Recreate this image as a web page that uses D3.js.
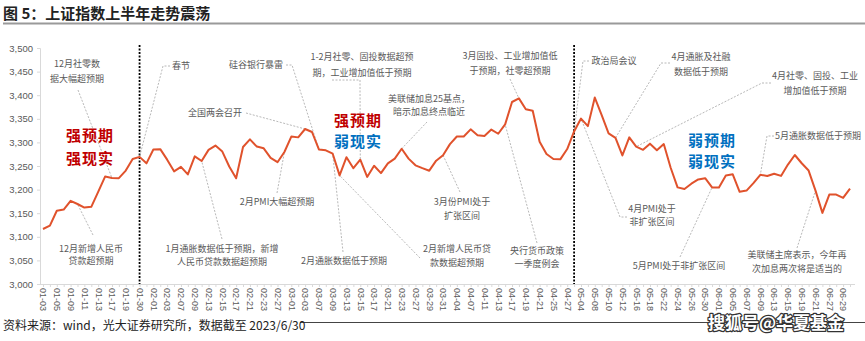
<!DOCTYPE html>
<html><head><meta charset="utf-8">
<script src="https://cdn.jsdelivr.net/npm/d3@7/dist/d3.min.js"></script>
<style>body{margin:0;background:#fff}svg{display:block}</style>
</head><body><svg id="c" width="865" height="341"></svg>
<script>
// ---------------- DATA ----------------
const dates = [
"01-03","01-04","01-05","01-06","01-09","01-10","01-11","01-12","01-13","01-16","01-17","01-18","01-19","01-20","01-30","01-31",
"02-01","02-02","02-03","02-06","02-07","02-08","02-09","02-10","02-13","02-14","02-15","02-16","02-17","02-20","02-21","02-22","02-23","02-24","02-27","02-28",
"03-01","03-02","03-03","03-06","03-07","03-08","03-09","03-10","03-13","03-14","03-15","03-16","03-17","03-20","03-21","03-22","03-23","03-24","03-27","03-28","03-29","03-30","03-31",
"04-03","04-04","04-06","04-07","04-10","04-11","04-12","04-13","04-14","04-17","04-18","04-19","04-20","04-21","04-24","04-25","04-26","04-27","04-28",
"05-04","05-05","05-08","05-09","05-10","05-11","05-12","05-15","05-16","05-17","05-18","05-19","05-22","05-23","05-24","05-25","05-26","05-29","05-30","05-31",
"06-01","06-02","06-05","06-06","06-07","06-08","06-09","06-12","06-13","06-14","06-15","06-16","06-19","06-20","06-21","06-26","06-27","06-28","06-29","06-30"];
const sseClose = [
3116.51,3123.52,3155.22,3157.64,3176.08,3169.51,3161.84,3163.45,3195.31,3227.59,3224.41,3224.24,3240.28,3264.81,3269.32,3255.67,
3284.92,3285.67,3263.41,3238.70,3248.09,3232.11,3270.38,3260.67,3284.16,3293.28,3280.49,3249.03,3224.02,3290.34,3306.52,3291.15,3287.48,3267.16,3258.03,3279.61,
3312.35,3310.65,3328.39,3322.03,3285.10,3283.25,3276.09,3230.08,3268.70,3245.31,3263.31,3226.89,3250.55,3234.91,3255.65,3265.75,3286.65,3265.65,3251.40,3245.38,3240.06,3261.25,3272.86,
3296.40,3312.56,3312.63,3327.65,3315.36,3313.57,3327.18,3318.36,3338.15,3385.61,3393.30,3370.13,3367.03,3301.26,3275.41,3264.87,3264.10,3285.88,3323.27,
3350.46,3334.50,3395.00,3357.67,3319.15,3309.55,3272.36,3310.74,3290.99,3284.22,3297.32,3283.54,3296.47,3246.24,3204.75,3201.26,3212.50,3221.45,3224.21,3204.56,
3204.63,3230.07,3232.44,3195.34,3197.90,3213.59,3231.41,3228.83,3233.67,3228.99,3252.98,3273.33,3255.81,3240.36,3197.90,3150.62,3189.44,3189.38,3182.38,3202.06];
const yTicks = [3000,3050,3100,3150,3200,3250,3300,3350,3400,3450,3500];
const xTickLabels = dates.filter((d,i)=>i%2===0);
const phaseBreaks = ["01-30","04-28"];

const titleText = "图 5：上证指数上半年走势震荡";
const sourceText = "资料来源：wind，光大证券研究所，数据截至 2023/6/30";
const watermark = "搜狐号@华夏基金";

// annotation layout: text lines, label centre, leader start/elbow, target date
const notes = [
 {t:["12月社零数","据大幅超预期"], cx:77, cy:[64,79], path:[[78,90]], d:"01-17"},
 {t:["12月新增人民币","贷款超预期"], cx:91, cy:[249,261], path:[[93,235]], d:"01-10"},
 {t:["春节"], cx:181, cy:[66], path:[[170,66],[163,66]], d:"01-30"},
 {t:["硅谷银行暴雷"], cx:256, cy:[65], path:[[286,65],[292,65]], d:"03-07"},
 {t:["全国两会召开"], cx:215, cy:[113], path:[[246,113]], d:"03-03"},
 {t:["1-2月社零、固投数据超预","期，工业增加值低于预期"], cx:362, cy:[57,73], path:[[332,80],[360,80]], d:"03-15"},
 {t:["美联储加息25基点，","暗示加息终点临近"], cx:429, cy:[99,112], path:[[427,122]], d:"03-23"},
 {t:["3月固投、工业增加值低","于预期，社零超预期"], cx:510, cy:[56,71], path:[[510,79]], d:"04-18"},
 {t:["3月份PMI处于","扩张区间"], cx:462, cy:[202,216], path:[[460,192]], d:"03-31"},
 {t:["2月新增人民币贷","款数据超预期"], cx:457, cy:[249,263], path:[[420,258]], d:"03-10"},
 {t:["1月通胀数据低于预期，新增","人民币贷款数据超预期"], cx:222, cy:[249,262], path:[[222,239]], d:"02-10"},
 {t:["2月PMI大幅超预期"], cx:277, cy:[202], path:[[277,193]], d:"02-28"},
 {t:["2月通胀数据低于预期"], cx:344, cy:[261], path:[[343,252]], d:"03-09"},
 {t:["央行货币政策","一季度例会"], cx:537, cy:[251,264], path:[[537,243]], d:"04-14"},
 {t:["政治局会议"], cx:614, cy:[61], path:[[589,61],[583,61]], d:"04-28"},
 {t:["4月通胀及社融","数据低于预期"], cx:701, cy:[57,72], path:[[670,63],[661,63]], d:"05-11"},
 {t:["4月社零、固投、工业","增加值低于预期"], cx:815, cy:[76,91], path:[[771,83],[762,83]], d:"05-16"},
 {t:["5月通胀数据低于预期"], cx:818, cy:[136], path:[[774,136],[767,136]], d:"06-09"},
 {t:["4月PMI处于","非扩张区间"], cx:652, cy:[209,222], path:[[627,217],[620,217]], d:"05-04"},
 {t:["5月PMI处于非扩张区间"], cx:679, cy:[266], path:[[680,257]], d:"05-31"},
 {t:["美联储主席表示，今年再","次加息两次将是适当的"], cx:797, cy:[255,269], path:[[797,248]], d:"06-21"}
];
const phases = [
 {a:"强预期", b:"强现实", ca:"#C00000", cb:"#C00000", cx:90, cy:[136,159]},
 {a:"强预期", b:"弱现实", ca:"#C00000", cb:"#0070C0", cx:358, cy:[121,142]},
 {a:"弱预期", b:"弱现实", ca:"#0070C0", cb:"#0070C0", cx:712, cy:[141,162]}
];

// ---------------- DRAW ----------------
const svg = d3.select("#c");
const cjk = "'Noto Sans CJK SC','Noto Sans',sans-serif";
const latin = "'Liberation Sans',Arial,sans-serif";

const x = d3.scalePoint().domain(dates).range([43, 850]);
const y = d3.scaleLinear().domain([3000, 3500]).range([284, 48]);

// title
svg.append("text").attr("x",3).attr("y",19).text(titleText)
  .attr("font-family",cjk).attr("font-size",15).attr("font-weight","bold").attr("fill","#222");
svg.append("line").attr("x1",3).attr("x2",865).attr("y1",23.5).attr("y2",23.5)
  .attr("stroke","#9a9a9a").attr("stroke-width",2);

// axes
const yAxis = d3.axisLeft(y).tickValues(yTicks).tickSize(3).tickFormat(d3.format(","));
const gy = svg.append("g").attr("transform","translate(40,0)").call(yAxis);
gy.select(".domain").attr("stroke","#d9d9d9");
gy.selectAll(".tick line").attr("stroke","#d9d9d9");
gy.selectAll("text").attr("font-family",latin).attr("font-size",9.5).attr("fill","#595959").attr("x",-7);

const xAxis = d3.axisBottom(x).tickValues(dates).tickSize(3).tickSizeOuter(0)
  .tickFormat(d => xTickLabels.includes(d) && dates.indexOf(d)%2===0 ? d : "");
const gx = svg.append("g").attr("transform","translate(0,284)").call(xAxis);
gx.select(".domain").attr("stroke","#d9d9d9").attr("d","M40,0.5H855");
gx.selectAll(".tick line").attr("stroke","#d9d9d9");
gx.selectAll("text").attr("font-family",latin).attr("font-size",9).attr("fill","#595959")
  .attr("text-anchor","start").attr("dy","0.35em")
  .attr("transform","translate(0,4) rotate(90)").attr("x",0).attr("y",0);

// phase break lines
phaseBreaks.forEach(d=>{
  svg.append("line").attr("x1",x(d)).attr("x2",x(d)).attr("y1",45).attr("y2",284)
    .attr("stroke","#000").attr("stroke-width",1.8).attr("stroke-dasharray","2,1.5");
});

// leader lines
const idx = d => dates.indexOf(d);
notes.forEach(n=>{
  const pts = n.path.concat([[x(n.d), y(sseClose[idx(n.d)])]]);
  svg.append("path").attr("d", d3.line()(pts)).attr("fill","none")
    .attr("stroke","#a6a6a6").attr("stroke-width",0.8).attr("stroke-dasharray","2,1.5");
});

// main line
svg.append("path").datum(sseClose)
  .attr("d", d3.line().x((v,i)=>x(dates[i])).y(v=>y(v)))
  .attr("fill","none").attr("stroke","#E0522C").attr("stroke-width",2).attr("stroke-linejoin","round");

// annotation texts
notes.forEach(n=>{
  n.t.forEach((s,k)=>{
    svg.append("text").attr("x",n.cx).attr("y",n.cy[k]).attr("dy","0.35em")
      .attr("text-anchor","middle").text(s)
      .attr("font-family",cjk).attr("font-size",9).attr("fill","#595959");
  });
});

// phase labels
phases.forEach(p=>{
  [[p.a,p.ca],[p.b,p.cb]].forEach(([s,c],k)=>{
    svg.append("text").attr("x",p.cx).attr("y",p.cy[k]).attr("dy","0.35em")
      .attr("text-anchor","middle").text(s)
      .attr("font-family",cjk).attr("font-size",15).attr("font-weight","bold")
      .attr("letter-spacing",1).attr("fill",c);
  });
});

// footer
svg.append("line").attr("x1",300).attr("x2",865).attr("y1",322.5).attr("y2",322.5)
  .attr("stroke","#444").attr("stroke-width",1);
svg.append("text").attr("x",3).attr("y",330).text(sourceText)
  .attr("font-family",cjk).attr("font-size",12).attr("fill","#222");
svg.append("text").attr("x",776).attr("y",329).attr("text-anchor","middle").text(watermark)
  .attr("font-family",cjk).attr("font-size",17).attr("font-weight","bold")
  .attr("fill","#fff").attr("stroke","#333").attr("stroke-width",2.5)
  .attr("paint-order","stroke").attr("stroke-linejoin","round");
</script></body></html>
